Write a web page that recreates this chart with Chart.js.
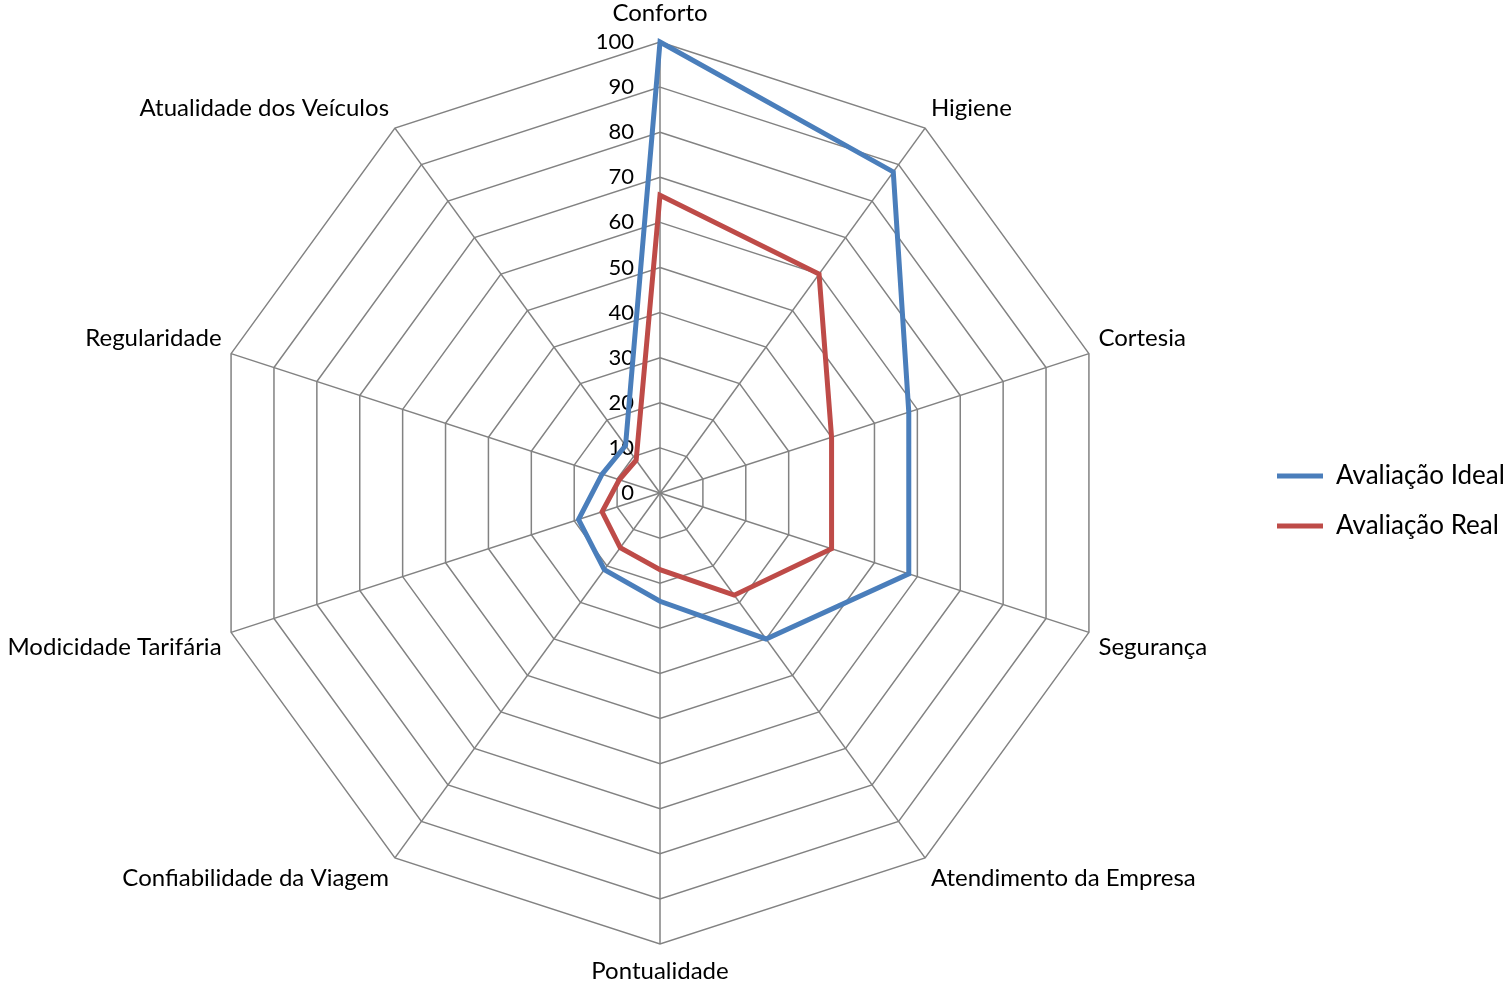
<!DOCTYPE html>
<html>
<head>
<meta charset="utf-8">
<script src="https://cdn.jsdelivr.net/npm/chart.js@4.4.0/dist/chart.umd.min.js"></script>
<style>
  body { margin: 0; background: #fff; overflow: hidden; }
  /* canvas um pouco mais largo, deslocado para a esquerda, para o radar ficar centrado como no original */
  #wrap { position: absolute; left: -15px; top: 0; width: 1521px; height: 984px; }
</style>
</head>
<body>
<div id="wrap"><canvas id="radarChart"></canvas></div>
<script>
// eixos do radar
var categorias = ['Conforto', 'Higiene', 'Cortesia', 'Segurança', 'Atendimento da Empresa',
  'Pontualidade', 'Confiabilidade da Viagem', 'Modicidade Tarifária', 'Regularidade',
  'Atualidade dos Veículos'];
// valores
var avaliacaoIdeal = [100, 88, 58, 58, 40, 24, 21, 19, 13.5, 13];
var avaliacaoReal = [66, 60, 40, 40, 28, 17, 15, 13.5, 9.5, 9];
// rotulos da escala
var rotulosEscala = ['0', '10', '20', '30', '40', '50', '60', '70', '80', '90', '100'];

var fonte = 'Lato';

// escreve os numeros da escala a esquerda do eixo vertical (como no Excel)
var escalaPlugin = {
  id: 'escalaPlugin',
  beforeDatasetsDraw: function(chart) {
    var r = chart.scales.r;
    var ctx = chart.ctx;
    ctx.save();
    ctx.font = '22px ' + fonte;
    ctx.fillStyle = '#000';
    ctx.textAlign = 'right';
    ctx.textBaseline = 'middle';
    r.ticks.forEach(function(t, i) {
      var p = r.getPointPositionForValue(0, t.value);
      ctx.fillText(rotulosEscala[i], p.x - 26, p.y);
    });
    ctx.restore();
  }
};

// legenda ocupa menos espaco no layout, depois volta para a posicao certa
var legendaPlugin = {
  id: 'legendaPlugin',
  afterLayout: function(chart) {
    var lg = chart.legend;
    lg.left -= 47;
    lg.top += 9;
    lg.bottom += 9;
  }
};

var ctx = document.getElementById('radarChart');
var myChart = new Chart(ctx, {
  type: 'radar',
  data: {
    labels: categorias,
    datasets: [
      {
        label: 'Avaliação Ideal',
        data: avaliacaoIdeal,
        borderColor: '#4a7ebb',
        backgroundColor: '#4a7ebb',
        borderWidth: 5,
        fill: false,
        pointRadius: 0,
        pointHoverRadius: 0
      },
      {
        label: 'Avaliação Real',
        data: avaliacaoReal,
        borderColor: '#be4b48',
        backgroundColor: '#be4b48',
        borderWidth: 5,
        fill: false,
        pointRadius: 0,
        pointHoverRadius: 0
      }
    ]
  },
  options: {
    responsive: true,
    maintainAspectRatio: false,
    animation: false,
    layout: { padding: 0 },
    plugins: {
      tooltip: { enabled: false },
      legend: {
        position: 'right',
        maxWidth: 206,
        labels: {
          usePointStyle: true,
          pointStyle: 'line',
          pointStyleWidth: 46,
          color: '#000',
          padding: 24,
          font: { family: fonte, size: 26 }
        }
      }
    },
    scales: {
      r: {
        min: 0,
        max: 100,
        ticks: { stepSize: 10, display: false },
        grid: { color: '#828282', lineWidth: 1.5 },
        angleLines: { color: '#828282', lineWidth: 1.5 },
        pointLabels: {
          color: '#000',
          padding: function(c) {
            if (c.index === 0) return 17;
            if (c.index === 5) return 15;
            return 10;
          },
          font: { family: fonte, size: 24, lineHeight: 1 }
        }
      }
    }
  },
  plugins: [escalaPlugin, legendaPlugin]
});
</script>
</body>
</html>
